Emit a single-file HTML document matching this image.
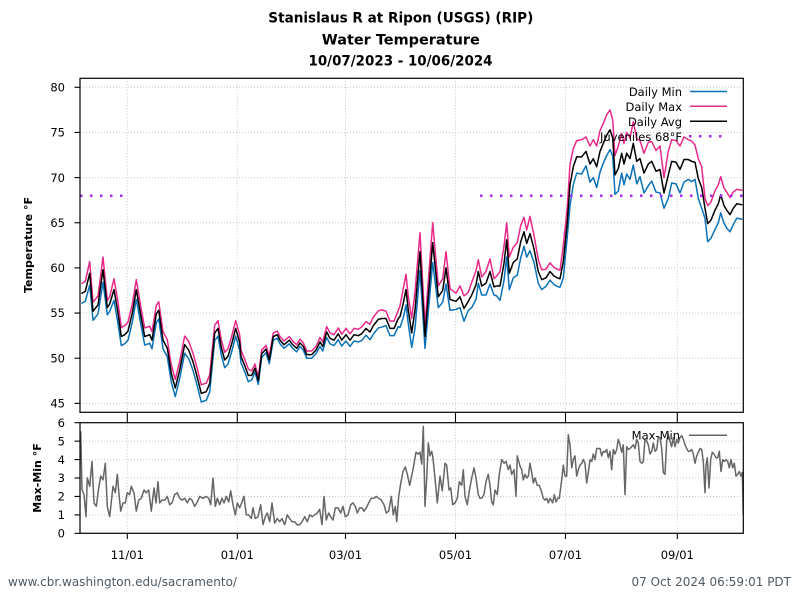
<!DOCTYPE html>
<html>
<head>
<meta charset="utf-8">
<style>
  html,body{margin:0;padding:0;background:#fff;}
  svg{display:block;}
  text{font-family:"DejaVu Sans","Liberation Sans",sans-serif;fill:#000;}
  .tick{font-size:11.5px;}
  .leg{font-size:11.5px;}
  .grid{stroke:#c8c8c8;stroke-width:1;stroke-dasharray:1 2;fill:none;}
  .ln{fill:none;stroke-width:1.5;stroke-linejoin:round;stroke-linecap:round;vector-effect:non-scaling-stroke;}
</style>
</head>
<body>
<svg width="800" height="600" viewBox="0 0 800 600" xmlns="http://www.w3.org/2000/svg">
  <rect x="0" y="0" width="800" height="600" fill="#fff"/>
  <defs>
    <clipPath id="c1"><rect x="80" y="78.3" width="663.3" height="334"/></clipPath>
    <clipPath id="c2"><rect x="80" y="422.7" width="663.3" height="110.6"/></clipPath>
  </defs>

  <!-- Titles -->
  <text x="400.8" y="22.7" text-anchor="middle" font-weight="bold" font-size="14" textLength="265" lengthAdjust="spacingAndGlyphs">Stanislaus R at Ripon (USGS) (RIP)</text>
  <text x="400.8" y="44.3" text-anchor="middle" font-weight="bold" font-size="14" textLength="158" lengthAdjust="spacingAndGlyphs">Water Temperature</text>
  <text x="400.5" y="65.7" text-anchor="middle" font-weight="bold" font-size="14" textLength="184" lengthAdjust="spacingAndGlyphs">10/07/2023 - 10/06/2024</text>

  <!-- Grid -->
  <g class="grid">
    <line x1="80" y1="87.3" x2="743.3" y2="87.3"/>
    <line x1="80" y1="132.45" x2="743.3" y2="132.45"/>
    <line x1="80" y1="177.6" x2="743.3" y2="177.6"/>
    <line x1="80" y1="222.75" x2="743.3" y2="222.75"/>
    <line x1="80" y1="267.9" x2="743.3" y2="267.9"/>
    <line x1="80" y1="313.05" x2="743.3" y2="313.05"/>
    <line x1="80" y1="358.2" x2="743.3" y2="358.2"/>
    <line x1="80" y1="403.35" x2="743.3" y2="403.35"/>
    <line x1="127.3" y1="78.3" x2="127.3" y2="412.3"/>
    <line x1="237.3" y1="78.3" x2="237.3" y2="412.3"/>
    <line x1="345.5" y1="78.3" x2="345.5" y2="412.3"/>
    <line x1="455.5" y1="78.3" x2="455.5" y2="412.3"/>
    <line x1="565.5" y1="78.3" x2="565.5" y2="412.3"/>
    <line x1="677.3" y1="78.3" x2="677.3" y2="412.3"/>
    <line x1="80" y1="441.15" x2="743.3" y2="441.15"/>
    <line x1="80" y1="459.58" x2="743.3" y2="459.58"/>
    <line x1="80" y1="478.01" x2="743.3" y2="478.01"/>
    <line x1="80" y1="496.44" x2="743.3" y2="496.44"/>
    <line x1="80" y1="514.87" x2="743.3" y2="514.87"/>
    <line x1="127.3" y1="422.7" x2="127.3" y2="533.3"/>
    <line x1="237.3" y1="422.7" x2="237.3" y2="533.3"/>
    <line x1="345.5" y1="422.7" x2="345.5" y2="533.3"/>
    <line x1="455.5" y1="422.7" x2="455.5" y2="533.3"/>
    <line x1="565.5" y1="422.7" x2="565.5" y2="533.3"/>
    <line x1="677.3" y1="422.7" x2="677.3" y2="533.3"/>
  </g>

  <!-- Main data -->
  <g clip-path="url(#c1)">
    <g transform="translate(0,809.7) scale(1,-9.03)">
      <polyline class="ln" stroke="#0a72b8" points="82.0,56.1 85.3,56.3 89.7,58.1 93.0,54.2 98.0,54.9 103.0,58.4 107.3,54.8 109.7,55.2 114.0,56.4 118.0,53.8 121.3,51.4 124.7,51.6 128.0,52.0 132.3,54.0 136.3,56.5 140.7,53.85 144.7,51.45 149.7,51.65 152.0,51.05 156.3,53.95 158.7,54.35 163.0,51.05 167.3,50.15 171.3,47.35 175.3,45.75 179.7,47.75 184.7,50.55 188.7,49.95 193.0,48.65 197.0,47.05 201.3,45.15 206.3,45.35 209.7,46.25 214.7,51.95 218.0,52.45 221.3,50.35 224.7,48.95 228.0,49.35 232.0,50.85 235.7,52.45 239.7,50.85 241,49.5 245,48.4 248.3,47.4 251.7,47.6 255,48.45 258.3,47.1 261.7,50.1 266,50.6 269.3,49.4 273.3,52.0 277.3,52.2 280,51.6 284,51.1 289.3,51.6 292.7,51.1 296.7,50.7 300,51.3 303.3,50.9 306.7,50.0 311.7,50.0 316,50.5 320,51.3 322.7,50.8 326.7,52.3 330,51.6 334,51.4 338.3,52.05 341.7,51.35 346,51.9 350,51.3 354,51.9 358.3,51.8 361.7,51.95 366,52.55 370,52.05 373.3,52.65 378.3,53.35 381.7,53.45 386,53.6 390,52.5 394,52.5 398.3,53.5 400,53.4 403.3,54.5 406,55.9 408.3,53.8 411.7,51.2 415,53.3 420,59.7 425,51.1 432.7,60.6 438.3,55.6 442.7,56.2 446,58.2 450,55.3 456,55.4 460,55.6 464,54.1 468.3,55.3 471.7,55.6 476,56.5 478.3,58.3 481.7,57.0 486,57.0 490,58.2 494,57.0 496.7,56.9 500,56.4 504,58.6 506.7,61.2 509.3,57.6 513.3,58.9 517.3,59.2 520.7,61.1 524,62.4 526.7,61.2 530,61.9 534,60.6 538.3,58.3 541.7,57.6 546,57.95 550,58.65 554,58.15 557.3,57.95 560,57.85 563.3,58.9 567.3,63.5 570,66.9 573.3,69.2 576.7,70.5 581.7,70.4 586,71.3 590,69.5 593.3,70.0 596.7,68.9 600,70.6 603.3,71.6 606.7,72.45 610,73.1 612.7,72.4 615,68.15 618.3,68.5 621.7,70.5 624,69.2 626.7,70.4 630,69.8 633.3,71.4 636.7,69.3 640,70.1 644,68.3 648.3,69.1 651.7,69.6 656,68.4 660,68.3 664,66.6 668.3,67.7 671.7,69.4 676,69.3 680,68.3 684,69.5 688.3,69.8 691.7,69.55 695,69.8 698.3,67.7 701.7,66.6 705,65.5 707.7,62.9 711,63.3 715,64.25 718.3,65.0 720.7,66.1 724,64.95 726.7,64.4 730,64.0 733.3,64.8 736.7,65.5 741.7,65.4"/>
      <polyline class="ln" stroke="#e8298a" points="82.0,58.3 85.3,58.5 89.7,60.7 93.0,56.2 98.0,56.9 103.0,61.2 107.3,56.4 109.7,56.8 114.0,58.8 118.0,56.2 121.3,53.4 124.7,53.6 128.0,54.0 132.3,56.0 136.3,58.7 140.7,55.75 144.7,53.35 149.7,53.55 152.0,52.95 156.3,55.85 158.7,56.25 163.0,52.95 167.3,52.05 171.3,49.25 175.3,47.65 179.7,49.65 184.7,52.45 188.7,51.85 193.0,50.55 197.0,48.95 201.3,47.05 206.3,47.25 209.7,48.15 214.7,53.65 218.0,54.15 221.3,52.05 224.7,50.65 228.0,51.05 232.0,52.55 235.7,54.15 239.7,52.55 241,50.9 245,49.8 248.3,48.8 251.7,48.6 255,49.35 258.3,47.9 261.7,50.9 266,51.4 269.3,50.2 273.3,52.8 277.3,53.0 280,52.4 284,51.9 289.3,52.4 292.7,51.9 296.7,51.5 300,52.1 303.3,51.7 306.7,50.8 311.7,50.8 316,51.3 320,52.3 322.7,51.8 326.7,53.5 330,52.8 334,52.6 338.3,53.35 341.7,52.65 346,53.3 350,52.7 354,53.3 358.3,53.2 361.7,53.45 366,54.05 370,53.75 373.3,54.55 378.3,55.25 381.7,55.35 386,55.2 390,54.1 394,54.1 398.3,55.3 400,55.8 403.3,57.7 406,59.3 408.3,56.8 411.7,54.4 415,57.3 420,63.9 425,53.7 432.7,65.0 438.3,58.0 442.7,58.8 446,61.8 450,57.7 456,57.2 460,58.0 464,56.9 468.3,57.3 471.7,58.4 476,59.7 478.3,60.9 481.7,59.0 486,59.6 490,61.0 494,58.8 496.7,59.1 500,59.6 504,62.4 506.7,65.0 509.3,61.2 513.3,62.3 517.3,62.8 520.7,64.7 524,65.6 526.7,64.2 530,65.7 534,63.6 538.3,60.9 541.7,59.8 546,59.85 550,60.55 554,60.05 557.3,59.85 560,59.75 563.3,62.5 567.3,66.7 570,71.5 573.3,73.2 576.7,74.1 581.7,74.2 586,74.5 590,73.5 593.3,74.2 596.7,73.5 600,75.2 603.3,76.0 606.7,76.95 610,77.5 612.7,76.4 615,72.45 618.3,73.5 621.7,74.9 624,73.8 626.7,75.0 630,74.4 633.3,76.2 636.7,74.3 640,74.1 644,72.7 648.3,73.9 651.7,74.0 656,73.0 660,73.5 664,70.0 668.3,72.9 671.7,74.2 676,74.1 680,73.5 684,74.5 688.3,74.2 691.7,74.05 695,73.6 698.3,72.1 701.7,71.2 705,67.7 707.7,66.9 711,67.3 715,68.55 718.3,69.2 720.7,70.1 724,68.85 726.7,68.4 730,67.8 733.3,68.4 736.7,68.7 741.7,68.6"/>
      <polyline class="ln" stroke="#000" points="82.0,57.2 85.3,57.4 89.7,59.4 93.0,55.2 98.0,55.9 103.0,59.8 107.3,55.6 109.7,56.0 114.0,57.6 118.0,55.0 121.3,52.4 124.7,52.6 128.0,53.0 132.3,55.0 136.3,57.6 140.7,54.8 144.7,52.4 149.7,52.6 152.0,52.0 156.3,54.9 158.7,55.3 163.0,52.0 167.3,51.1 171.3,48.3 175.3,46.7 179.7,48.7 184.7,51.5 188.7,50.9 193.0,49.6 197.0,48.0 201.3,46.1 206.3,46.3 209.7,47.2 214.7,52.8 218.0,53.3 221.3,51.2 224.7,49.8 228.0,50.2 232.0,51.7 235.7,53.3 239.7,51.7 241,50.2 245,49.1 248.3,48.1 251.7,48.1 255,48.9 258.3,47.5 261.7,50.5 266,51.0 269.3,49.8 273.3,52.4 277.3,52.6 280,52.0 284,51.5 289.3,52.0 292.7,51.5 296.7,51.1 300,51.7 303.3,51.3 306.7,50.4 311.7,50.4 316,50.9 320,51.8 322.7,51.3 326.7,52.9 330,52.2 334,52.0 338.3,52.7 341.7,52.0 346,52.6 350,52.0 354,52.6 358.3,52.5 361.7,52.7 366,53.3 370,52.9 373.3,53.6 378.3,54.3 381.7,54.4 386,54.4 390,53.3 394,53.3 398.3,54.4 400,54.6 403.3,56.1 406,57.6 408.3,55.3 411.7,52.8 415,55.3 420,61.8 425,52.4 432.7,62.8 438.3,56.8 442.7,57.5 446,60.0 450,56.5 456,56.3 460,56.8 464,55.5 468.3,56.3 471.7,57.0 476,58.1 478.3,59.6 481.7,58.0 486,58.3 490,59.6 494,57.9 496.7,58.0 500,58.0 504,60.5 506.7,63.1 509.3,59.4 513.3,60.6 517.3,61.0 520.7,62.9 524,64.0 526.7,62.7 530,63.8 534,62.1 538.3,59.6 541.7,58.7 546,58.9 550,59.6 554,59.1 557.3,58.9 560,58.8 563.3,60.7 567.3,65.1 570,69.2 573.3,71.2 576.7,72.3 581.7,72.3 586,72.9 590,71.5 593.3,72.1 596.7,71.2 600,72.9 603.3,73.8 606.7,74.7 610,75.3 612.7,74.4 615,70.3 618.3,71.0 621.7,72.7 624,71.5 626.7,72.7 630,72.1 633.3,73.8 636.7,71.8 640,72.1 644,70.5 648.3,71.5 651.7,71.8 656,70.7 660,70.9 664,68.3 668.3,70.3 671.7,71.8 676,71.7 680,70.9 684,72.0 688.3,72.0 691.7,71.8 695,71.7 698.3,69.9 701.7,68.9 705,66.6 707.7,64.9 711,65.3 715,66.4 718.3,67.1 720.7,68.1 724,66.9 726.7,66.4 730,65.9 733.3,66.6 736.7,67.1 741.7,67.0"/>
    </g>
    <line x1="80" y1="195.7" x2="125" y2="195.7" stroke="#a52cf0" stroke-width="2.5" stroke-dasharray="2.5 7.5"/>
    <line x1="480" y1="195.7" x2="743.3" y2="195.7" stroke="#a52cf0" stroke-width="2.5" stroke-dasharray="2.5 7.5"/>
  </g>

  <!-- Lower data -->
  <g clip-path="url(#c2)">
    <g transform="translate(0,533.3) scale(1,-18.43)">
      <polyline class="ln" stroke="#666" points="80.7,5.5 82,2.37 84,2.1 86,0.9 87.3,3.0 89.7,2.55 92,3.9 94,1.65 96.3,1.46 98.7,2.46 100.7,3.1 103,2.9 105.3,3.8 107.3,1.46 109.7,0.9 111.3,1.7 113,2.55 115.3,2.2 117.3,3.2 118.7,2.3 120.7,1.2 123,1.65 125.3,1.65 127.3,2.2 129.7,2.1 131.3,2.55 134,2.2 136.3,1.2 138.7,1.8 141.3,1.9 144,2.35 146.3,2.2 148.7,2.35 151.3,1.2 154,2.46 156,1.65 158,2.8 159.7,1.65 162,1.8 164.7,1.8 167.3,2.0 169.7,1.55 172,1.65 174.7,2.1 177.3,2.2 179.7,1.9 182,1.8 184.7,1.9 187.3,1.65 189.7,1.9 192,1.8 194.7,1.46 197.3,1.7 199.7,2.0 203,1.9 206.3,2.0 208.7,1.9 210.7,1.55 213,3.0 215.3,1.46 217.3,1.9 219.7,1.55 222,1.9 224,1.65 226.3,2.0 228.7,1.7 230.7,2.3 233,1.55 235.3,1.0 237.3,1.65 239.7,1.38 242,1.7 244,2.0 246.3,1.0 248.7,1.0 251.3,0.8 253,1.38 255.3,0.8 258,0.9 260.7,1.55 263,0.47 265.3,0.9 267.3,1.1 269.7,0.63 272,1.65 274.7,0.55 277.3,0.8 279.7,0.63 282,0.8 284.7,0.47 287.3,1.0 289.7,0.8 292,0.63 294.7,0.63 297.3,0.45 299.7,0.47 302,0.63 304.7,0.9 307.3,0.63 309.7,1.0 312,0.9 314.7,1.0 317.3,1.1 319.7,1.3 322,0.47 324,2.0 326.3,0.72 328.7,1.1 330.7,0.9 333,0.72 335.3,1.38 338,1.38 340.7,1.1 343,1.46 345.3,0.9 348,1.0 350.7,1.55 353,1.65 355.3,1.46 357.3,1.1 359.7,1.38 362,1.38 364,1.2 366.3,1.38 368.7,1.65 371.3,1.9 374,1.9 376.3,2.0 378.7,1.9 381.3,1.8 384,1.55 386.3,1.1 388.7,1.2 391.3,2.0 393.3,1.0 395.3,1.46 396.7,0.63 398.7,2.0 400.7,2.7 403,3.35 405.3,3.6 407.3,3.2 409.7,2.6 413.3,3.55 416,4.4 418.3,4.3 420,4.4 421.7,3.75 423.3,5.8 425,1.46 426.7,3.0 428.3,4.9 430,4.2 431.7,4.45 432.7,4.2 435,3.0 437.3,1.65 440,3.1 442.3,2.3 445,3.8 446.7,3.7 449,2.35 450.7,2.46 452.7,1.55 455,1.65 457.3,1.9 459.3,2.8 461.7,2.6 463.3,3.45 465,2.0 467.3,1.55 469.3,2.3 471.7,3.0 474,3.55 476,3.0 478.3,2.1 480,1.9 481.7,1.9 484,2.1 486,2.8 488.3,3.2 490,2.6 491.7,1.7 493.3,1.55 495,2.35 497.3,2.1 499.3,3.2 501.7,4.0 504,3.8 506,3.9 508.3,3.45 510,3.7 511.7,3.2 514,3.45 516,2.0 517.3,4.2 520,3.65 521.7,3.45 523.3,2.9 525,3.2 526.7,3.0 528.3,3.1 530,3.8 531.7,3.3 533.3,2.73 535,3.0 537.3,2.6 539.3,2.6 541,2.35 543.3,1.9 545,1.8 546.7,1.9 548.3,1.65 550,1.9 552.7,1.65 554.3,2.1 556,1.7 557.7,1.9 559.3,1.9 561.7,2.9 563.3,3.7 565,3.1 566.7,3.1 568.3,5.35 570,4.8 571.7,3.55 573.3,4.0 575,4.2 576.7,3.1 578.3,3.45 580,3.7 581.7,3.8 583.3,4.0 585,3.8 586.7,2.73 588.3,3.3 590,4.0 591.7,3.9 593.3,4.3 595,4.0 596.7,4.6 598.3,4.6 600,4.6 601.7,4.2 603.3,4.45 605,4.4 606.7,4.55 608.3,4.1 610,4.45 611.7,3.45 613.3,4.55 615,4.3 616.7,4.55 618.3,5.1 620,4.8 621.7,4.4 623.3,4.8 625,2.1 626.7,4.7 628.3,4.55 630,4.6 631.7,4.7 633.3,4.8 635,4.6 636.7,5.1 638.3,4.9 640,3.9 641.7,3.8 643.3,3.9 645,5.1 646.7,5.0 648.3,4.8 650,4.3 651.7,4.45 653.3,4.9 655,4.45 656.7,4.55 658.3,5.2 660,5.2 661.7,4.6 663.3,3.3 665,3.2 666.7,5.0 668.3,5.35 670,5.0 671.7,4.7 673.3,5.2 675,4.7 676.7,5.1 678.3,4.9 680,5.2 681.7,5.3 683.3,5.1 685,4.8 686.7,4.6 688.3,4.45 690,4.45 691.7,4.55 693.3,4.3 695,3.8 696.7,4.2 698.3,4.4 700,4.6 701.7,4.55 703.3,3.9 705,2.2 706,3.7 707.3,4.1 709,2.46 710.7,4.0 712.3,4.4 714,4.3 716,4.1 717.7,4.1 719.3,4.45 721,3.35 722.7,4.0 724.3,3.9 726,4.0 727.7,3.9 729.3,3.55 731,4.0 732.7,3.55 734.3,3.8 736,3.1 737.7,3.2 739.3,3.35 741,3.1 742.3,3.3 743.2,1.0"/>
    </g>
  </g>

  <!-- Axes frames -->
  <rect x="80" y="78.3" width="663.3" height="334" fill="none" stroke="#000" stroke-width="1.2"/>
  <rect x="80" y="422.7" width="663.3" height="110.6" fill="none" stroke="#000" stroke-width="1.2"/>

  <!-- Ticks -->
  <g stroke="#000" stroke-width="1.1">
    <line x1="74.5" y1="87.3" x2="80" y2="87.3"/>
    <line x1="74.5" y1="132.45" x2="80" y2="132.45"/>
    <line x1="74.5" y1="177.6" x2="80" y2="177.6"/>
    <line x1="74.5" y1="222.75" x2="80" y2="222.75"/>
    <line x1="74.5" y1="267.9" x2="80" y2="267.9"/>
    <line x1="74.5" y1="313.05" x2="80" y2="313.05"/>
    <line x1="74.5" y1="358.2" x2="80" y2="358.2"/>
    <line x1="74.5" y1="403.35" x2="80" y2="403.35"/>
    <line x1="74.5" y1="422.7" x2="80" y2="422.7"/>
    <line x1="74.5" y1="441.15" x2="80" y2="441.15"/>
    <line x1="74.5" y1="459.58" x2="80" y2="459.58"/>
    <line x1="74.5" y1="478.01" x2="80" y2="478.01"/>
    <line x1="74.5" y1="496.44" x2="80" y2="496.44"/>
    <line x1="74.5" y1="514.87" x2="80" y2="514.87"/>
    <line x1="74.5" y1="533.3" x2="80" y2="533.3"/>
    <line x1="127.3" y1="412.3" x2="127.3" y2="422.7"/>
    <line x1="237.3" y1="412.3" x2="237.3" y2="422.7"/>
    <line x1="345.5" y1="412.3" x2="345.5" y2="422.7"/>
    <line x1="455.5" y1="412.3" x2="455.5" y2="422.7"/>
    <line x1="565.5" y1="412.3" x2="565.5" y2="422.7"/>
    <line x1="677.3" y1="412.3" x2="677.3" y2="422.7"/>
    <line x1="127.3" y1="533.3" x2="127.3" y2="539"/>
    <line x1="237.3" y1="533.3" x2="237.3" y2="539"/>
    <line x1="345.5" y1="533.3" x2="345.5" y2="539"/>
    <line x1="455.5" y1="533.3" x2="455.5" y2="539"/>
    <line x1="565.5" y1="533.3" x2="565.5" y2="539"/>
    <line x1="677.3" y1="533.3" x2="677.3" y2="539"/>
  </g>

  <!-- Y tick labels -->
  <g class="tick" text-anchor="end">
    <text x="65" y="91.5">80</text>
    <text x="65" y="136.6">75</text>
    <text x="65" y="181.8">70</text>
    <text x="65" y="226.9">65</text>
    <text x="65" y="272.1">60</text>
    <text x="65" y="317.2">55</text>
    <text x="65" y="362.4">50</text>
    <text x="65" y="407.5">45</text>
    <text x="65" y="426.9">6</text>
    <text x="65" y="445.3">5</text>
    <text x="65" y="463.8">4</text>
    <text x="65" y="482.2">3</text>
    <text x="65" y="500.6">2</text>
    <text x="65" y="519.1">1</text>
    <text x="65" y="537.5">0</text>
  </g>

  <!-- X tick labels -->
  <g class="tick" text-anchor="middle">
    <text x="127.3" y="559">11/01</text>
    <text x="237.3" y="559">01/01</text>
    <text x="345.5" y="559">03/01</text>
    <text x="455.5" y="559">05/01</text>
    <text x="565.5" y="559">07/01</text>
    <text x="677.3" y="559">09/01</text>
  </g>

  <!-- Axis labels -->
  <text transform="translate(32,245) rotate(-90)" text-anchor="middle" font-weight="bold" font-size="11">Temperature °F</text>
  <text transform="translate(41,478) rotate(-90)" text-anchor="middle" font-weight="bold" font-size="11">Max-Min °F</text>

  <!-- Legend main -->
  <g class="leg" text-anchor="end">
    <text x="682" y="96">Daily Min</text>
    <text x="682" y="111">Daily Max</text>
    <text x="682" y="126">Daily Avg</text>
    <text x="682" y="141">Juveniles 68°F</text>
  </g>
  <line x1="690" y1="91.5" x2="727" y2="91.5" stroke="#0a72b8" stroke-width="1.5"/>
  <line x1="690" y1="106.3" x2="727" y2="106.3" stroke="#e8298a" stroke-width="1.5"/>
  <line x1="690" y1="121.2" x2="727" y2="121.2" stroke="#000" stroke-width="1.5"/>
  <line x1="689" y1="136.2" x2="724" y2="136.2" stroke="#a52cf0" stroke-width="2.5" stroke-dasharray="2.5 7.5"/>

  <!-- Legend lower -->
  <text class="leg" x="680" y="439.7" text-anchor="end">Max-Min</text>
  <line x1="689" y1="435.3" x2="727" y2="435.3" stroke="#666" stroke-width="1.5"/>

  <!-- Footer -->
  <text x="8" y="585.8" font-size="12" style="fill:#4e5a64">www.cbr.washington.edu/sacramento/</text>
  <text x="791" y="585.8" font-size="12" text-anchor="end" style="fill:#4e5a64">07 Oct 2024 06:59:01 PDT</text>
</svg>
</body>
</html>
